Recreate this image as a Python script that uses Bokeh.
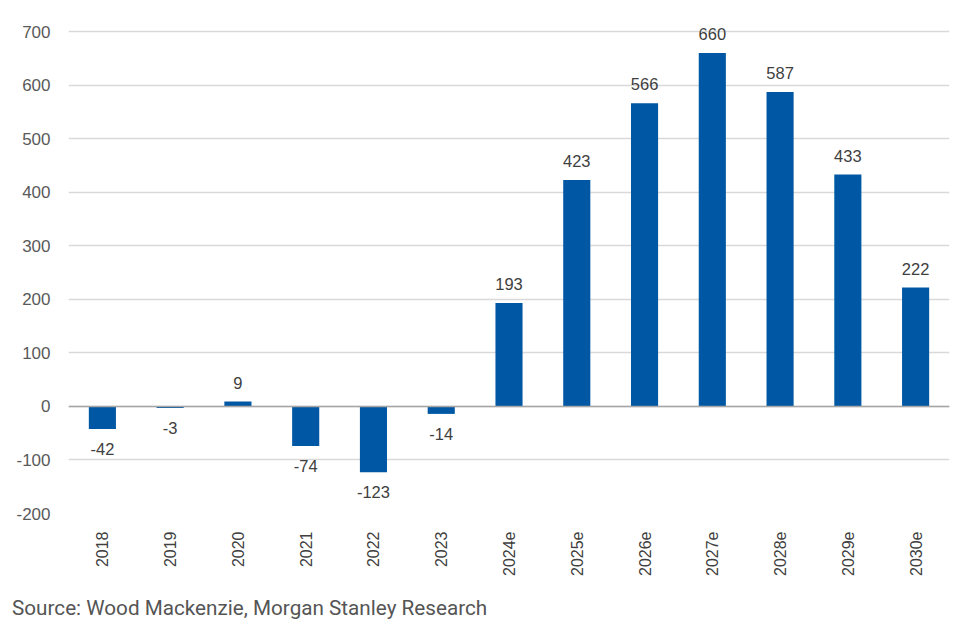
import math

from bokeh.plotting import figure
from bokeh.layouts import column
from bokeh.models import (ColumnDataSource, Span, Div, FixedTicker, Range1d,
                          PrintfTickFormatter)
from bokeh.core.properties import value
from bokeh.embed import file_html
from bokeh.resources import INLINE

# Annual values by year (e = estimate)
years = ["2018", "2019", "2020", "2021", "2022", "2023", "2024e",
         "2025e", "2026e", "2027e", "2028e", "2029e", "2030e"]
values = [-42, -3, 9, -74, -123, -14, 193, 423, 566, 660, 587, 433, 222]
y_ticks = [-200, -100, 0, 100, 200, 300, 400, 500, 600, 700]
source_note = "Source: Wood Mackenzie, Morgan Stanley Research"

BAR_COLOR = "#0057A3"
TEXT_COLOR = "#404040"

src = ColumnDataSource(dict(
    year=years,
    val=values,
    label=[str(v) for v in values],
    base=["bottom" if v >= 0 else "top" for v in values],
    off=[-13 if v >= 0 else 14 for v in values],
))

p = figure(x_range=years, y_range=Range1d(-200, 730), width=966, height=580,
           output_backend="svg", toolbar_location=None,
           min_border_left=68, min_border_right=17, min_border_top=15,
           min_border_bottom=67)
p.outline_line_color = None
p.background_fill_color = "white"
p.border_fill_color = "white"

p.vbar(x="year", top="val", bottom=0, width=0.4, source=src,
       color=BAR_COLOR, line_color=None)

p.text(x="year", y="val", text="label", source=src,
       text_align="center", text_baseline="base", y_offset="off",
       text_font=value("Liberation Sans"), text_font_size="16.5px",
       text_color=TEXT_COLOR)

# zero baseline
p.add_layout(Span(location=0, dimension="width", line_color="#a6a6a6",
                  line_width=1.5))

# y axis: labels only, light horizontal grid
p.yaxis.ticker = FixedTicker(ticks=y_ticks)
p.yaxis.formatter = PrintfTickFormatter(format="%d")
p.yaxis.axis_line_color = None
p.yaxis.major_tick_line_color = None
p.yaxis.minor_tick_line_color = None
p.yaxis.major_label_standoff = 12
p.yaxis.major_label_text_font = "Liberation Sans"
p.yaxis.major_label_text_font_size = "17px"
p.yaxis.major_label_text_color = "#595959"
p.ygrid.ticker = FixedTicker(ticks=y_ticks)
p.ygrid.grid_line_color = "#d9d9d9"
p.ygrid.grid_line_width = 1.5
p.xgrid.grid_line_color = None

# x axis: category labels reading bottom-to-top
p.xaxis.axis_line_color = None
p.xaxis.major_tick_line_color = None
p.xaxis.minor_tick_line_color = None
p.xaxis.major_label_orientation = math.pi / 2
p.xaxis.major_label_standoff = 12
p.xaxis.major_label_text_font = "Liberation Sans"
p.xaxis.major_label_text_font_size = "16px"
p.xaxis.major_label_text_color = TEXT_COLOR
p.x_range.range_padding = 0

# source note under the chart
note = Div(
    text=(f'<div style="font-family: Roboto; font-size: 20.7px; '
          f'line-height: 24px; color: #555555; padding: 16px 0 0 12px; '
          f'white-space: nowrap;">{source_note}</div>'),
    width=966, height=44, margin=0,
)

layout = column(p, note, spacing=0)
open("out.html", "w").write(file_html(layout, INLINE))
